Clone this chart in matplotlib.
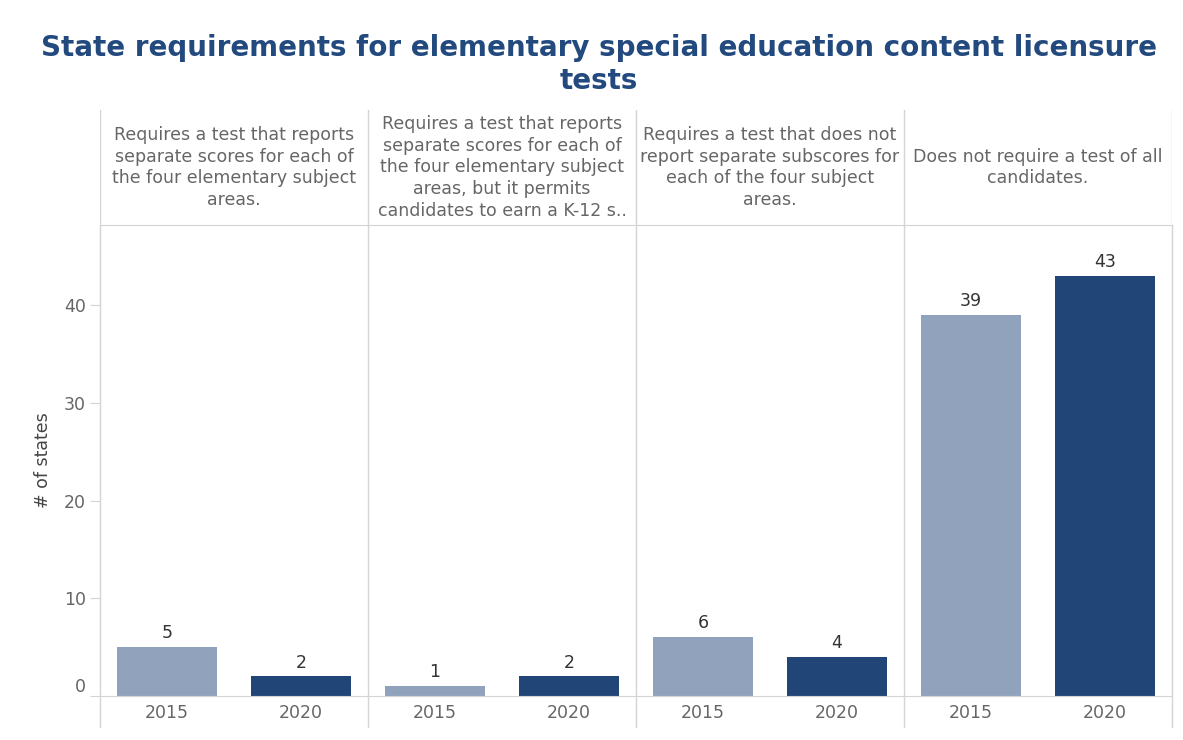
import matplotlib.pyplot as plt
import matplotlib.transforms as mtransforms

plt.rcParams['font.family'] = ['DejaVu Sans']

categories = [
    "Requires a test that reports\nseparate scores for each of\nthe four elementary subject\nareas.",
    "Requires a test that reports\nseparate scores for each of\nthe four elementary subject\nareas, but it permits\ncandidates to earn a K-12 s..",
    "Requires a test that does not\nreport separate subscores for\neach of the four subject\nareas.",
    "Does not require a test of all\ncandidates.",
]
years = ["2015", "2020"]
states_2015 = [5, 1, 6, 39]
states_2020 = [2, 2, 4, 43]

light = "#91a3bc"
dark = "#224577"
grid_c = "#d4d4d4"
text_c = "#666666"
fs = 12.5

fig = plt.figure(figsize=(11.83, 7.4), dpi=100)
ax = fig.add_axes([100 / 1183, 1 - 696 / 740, 1072 / 1183, 471 / 740])
hdr = fig.add_axes([100 / 1183, 1 - 225 / 740, 1072 / 1183, 115 / 740])

bw = 0.75
for i in range(len(categories)):
    for j, (vals, col) in enumerate([(states_2015, light), (states_2020, dark)]):
        x = 2 * i + j + 0.5
        ax.bar(x, vals[i], width=bw, color=col, zorder=2)
        ax.text(x, vals[i] + 0.5, str(vals[i]), ha="center", va="bottom",
                fontsize=fs, color="#333333")

ax.set_xlim(0, 8)
ax.set_ylim(0, 48.2)
ax.set_xticks([k + 0.5 for k in range(8)])
ax.set_xticklabels(years * 4, fontsize=fs, color=text_c)
ax.tick_params(axis="x", length=0, pad=6)
ax.set_yticks([0, 10, 20, 30, 40])
ax.set_yticklabels(["0", "10", "20", "30", "40"], fontsize=fs, color=text_c)
ax.tick_params(axis="y", length=7, color=grid_c, pad=3)
ax.get_yticklabels()[0].set_va("bottom")
for s in ["top", "right", "left"]:
    ax.spines[s].set_visible(False)
ax.spines["bottom"].set_color(grid_c)
ax.set_ylabel("# of states", fontsize=fs, color="#444444", labelpad=9)

# panel dividers through header and below the axis
trans = mtransforms.blended_transform_factory(ax.transData, ax.transAxes)
for xv in [0, 2, 4, 6, 8]:
    ax.plot([xv, xv], [-0.066, 1.0], color=grid_c, lw=1, transform=trans,
            clip_on=False, zorder=1)

hdr.set_xlim(0, 8)
hdr.set_ylim(0, 1)
hdr.set_xticks([])
hdr.set_yticks([])
for s in ["top", "right", "left"]:
    hdr.spines[s].set_visible(False)
hdr.spines["bottom"].set_color(grid_c)
for xv in [0, 2, 4, 6, 8]:
    hdr.axvline(xv, color=grid_c, lw=1)
for i, cat in enumerate(categories):
    hdr.text(2 * i + 1, 0.5, cat, ha="center", va="center", fontsize=fs,
             color=text_c, linespacing=1.28)

fig.text(0.506, 0.913, "State requirements for elementary special education content licensure\ntests",
         ha="center", va="center", fontsize=20, fontweight="bold", color="#234a7e",
         linespacing=1.2)

fig.savefig("out.png", dpi=100)
